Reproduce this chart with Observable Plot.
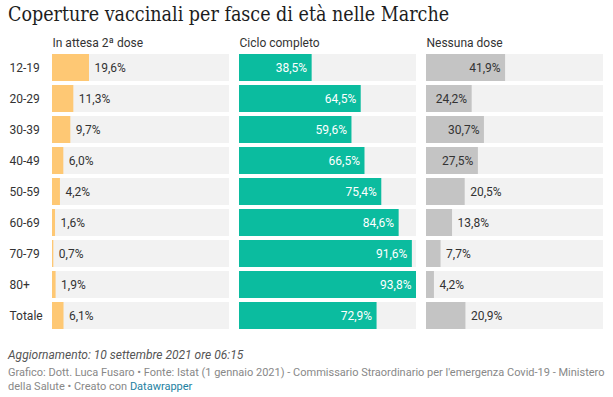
<!DOCTYPE html>
<html>
<head>
<meta charset="utf-8">
<script src="https://cdn.jsdelivr.net/npm/d3@7"></script>
<script src="https://cdn.jsdelivr.net/npm/@observablehq/plot@0.6"></script>
<style>
  html, body { margin: 0; padding: 0; background: #fff; }
  body { width: 613px; overflow: hidden; font-family: Roboto, sans-serif; }
  #title { box-sizing: border-box; height: 30px; padding: 5px 0 0 8px; font-family: "DejaVu Serif Condensed", "DejaVu Serif", serif; font-size: 19.5px; line-height: 20px; color: #1d1d1d; white-space: nowrap; }
  #chart svg { display: block; }
  #notes { box-sizing: border-box; padding: 7px 0 0 8px; font-size: 12px; line-height: 16px; font-style: italic; color: #555; white-space: nowrap; }
  #credits { padding: 3px 0 0 8px; font-size: 11px; line-height: 14px; color: #888; white-space: nowrap; }
  #credits a { color: #1d81a2; text-decoration: none; }
</style>
</head>
<body>
<div id="title">Coperture vaccinali per fasce di età nelle Marche</div>
<div id="chart"></div>
<div id="notes">Aggiornamento: 10 settembre 2021 ore 06:15</div>
<div id="credits">Grafico: Dott. Luca Fusaro • Fonte: Istat (1 gennaio 2021) - Commissario Straordinario per l'emergenza Covid-19 - Ministero<br>della Salute • Creato con <a>Datawrapper</a></div>
<script>
const ageGroups = ["12-19", "20-29", "30-39", "40-49", "50-59", "60-69", "70-79", "80+", "Totale"];
const columns = ["In attesa 2ª dose", "Ciclo completo", "Nessuna dose"];
const attesa = [19.6, 11.3, 9.7, 6.0, 4.2, 1.6, 0.7, 1.9, 6.1];
const completo = [38.5, 64.5, 59.6, 66.5, 75.4, 84.6, 91.6, 93.8, 72.9];
const nessuna = [41.9, 24.2, 30.7, 27.5, 20.5, 13.8, 7.7, 4.2, 20.9];
const colors = ["#fec874", "#0bbc9f", "#c4c4c4"];
const insideText = ["#333333", "#ffffff", "#333333"];

const series = [attesa, completo, nessuna];
const rows = [];
series.forEach((vals, ci) => vals.forEach((v, i) => rows.push({col: columns[ci], ci, age: ageGroups[i], value: v})));
const maxVal = d3.max(rows, d => d.value);
const bg = rows.map(d => ({...d, value: maxVal}));

const W = 613, marginLeft = 52, marginRight = 10;
const facetPad = 0.0535;
const bandW = (W - marginLeft - marginRight) / (3 - facetPad) * (1 - facetPad);
const fits = d => d.value / maxVal * bandW > 42;
const fmt = v => d3.format(".1f")(v).replace(".", ",") + "%";

const chart = Plot.plot({
  width: W,
  height: 310,
  marginTop: 22,
  marginBottom: 9,
  marginLeft,
  marginRight,
  style: {fontFamily: "Roboto, sans-serif", fontSize: "12px", color: "#333"},
  fx: {domain: columns, axis: null, paddingInner: facetPad, paddingOuter: 0},
  x: {domain: [0, maxVal], axis: null},
  y: {domain: ageGroups, paddingInner: 0.129, paddingOuter: 0.0645, label: null},
  marks: [
    Plot.barX(bg, {fx: "col", y: "age", x: "value", fill: "#f2f2f2"}),
    Plot.barX(rows, {fx: "col", y: "age", x: "value", fill: d => colors[d.ci]}),
    Plot.text(rows.filter(d => !fits(d)), {fx: "col", y: "age", x: "value", text: d => fmt(d.value), textAnchor: "start", dx: 5, fill: "#333"}),
    Plot.text(rows.filter(fits), {fx: "col", y: "age", x: "value", text: d => fmt(d.value), textAnchor: "end", dx: -5, fill: d => insideText[d.ci]}),
    Plot.text(columns, {fx: d => d, text: d => d, frameAnchor: "top-left", lineAnchor: "middle", textAnchor: "start", dy: -9.5, fill: "#333"}),
    Plot.axisY({tickSize: 0, tickPadding: 0, textAnchor: "start", dx: 9 - marginLeft, label: null, fill: "#333"})
  ]
});
document.getElementById("chart").appendChild(chart);
</script>
</body>
</html>
